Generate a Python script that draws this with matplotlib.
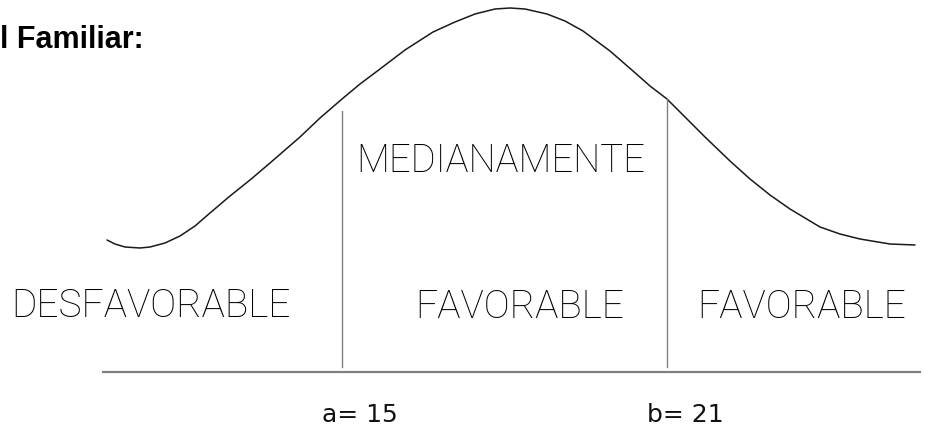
import matplotlib
matplotlib.use("Agg")
import matplotlib.pyplot as plt

# ---- data (pixel-read positions along the bell curve) ----
curve_px = [107, 115, 125, 140, 150, 165, 180, 195, 210, 230, 250, 270, 300, 320,
            342, 360, 380, 405, 433, 455, 475, 495, 510, 525, 547, 565, 583, 610,
            633, 650, 667, 685, 705, 730, 750, 770, 790, 820, 840, 860, 890, 915]
curve_py = [241, 245, 248, 249, 248, 244, 237, 227, 214, 197, 181, 164, 138, 119,
            100, 85, 70, 51, 33, 23, 15, 10, 9, 10, 15, 22, 32, 52,
            72, 87, 100, 118, 138, 162, 180, 196, 210, 228, 235, 240, 245, 246]
cut_scores = [15, 21]
cut_tops = [261, 273]
cut_labels = ["a= 15", "b= 21"]
categories = ["DESFAVORABLE", "FAVORABLE", "FAVORABLE"]
middle_top = "MEDIANAMENTE"
title = "l Familiar:"

# pixel -> chart units (score on x, height above baseline on y)
PPU = 325 / 6.0
def sx(px):
    return 15 + (px - 342) / PPU
def hy(py):
    return 373 - py

curve_x = [sx(p) for p in curve_px]
curve_y = [hy(p) for p in curve_py]
base_range = [sx(103), sx(920)]

fig = plt.figure(figsize=(9.29, 4.27), dpi=100)
ax = fig.add_axes([0, 0, 1, 1])
ax.set_xlim(sx(0), sx(929))
ax.set_ylim(hy(427), hy(0))
ax.axis("off")

ax.plot(curve_x, curve_y, color="#1a1a1a", lw=1.1, solid_capstyle="round",
        solid_joinstyle="round", antialiased=True)
for s, top in zip(cut_scores, cut_tops):
    ax.plot([s, s], [5, top], color="#808080", lw=1.0)
ax.plot(base_range, [0, 0], color="#808080", lw=1.6)

lightfont = ["Roboto", "DejaVu Sans"]
ax.text(sx(151), hy(306), categories[0], ha="center", va="center", fontsize=28,
        family=lightfont, fontweight="light", color="#000000")
ax.text(sx(520), hy(307), categories[1], ha="center", va="center", fontsize=28,
        family=lightfont, fontweight="light", color="#000000")
ax.text(sx(802), hy(307), categories[2], ha="center", va="center", fontsize=28,
        family=lightfont, fontweight="light", color="#000000")
ax.text(sx(501), hy(161), middle_top, ha="center", va="center", fontsize=27.5,
        family=lightfont, fontweight="light", color="#000000")

for s, lab in zip(cut_scores, cut_labels):
    ax.text(s + 0.33, hy(415), lab, ha="center", va="center", fontsize=18,
            family=["DejaVu Sans"], color="#111111")

fig.text(0.0, 1 - 40 / 427, title, ha="left", va="center", fontsize=22,
         fontweight="bold", family=["Liberation Sans", "DejaVu Sans"])

fig.savefig("out.png", dpi=100)
